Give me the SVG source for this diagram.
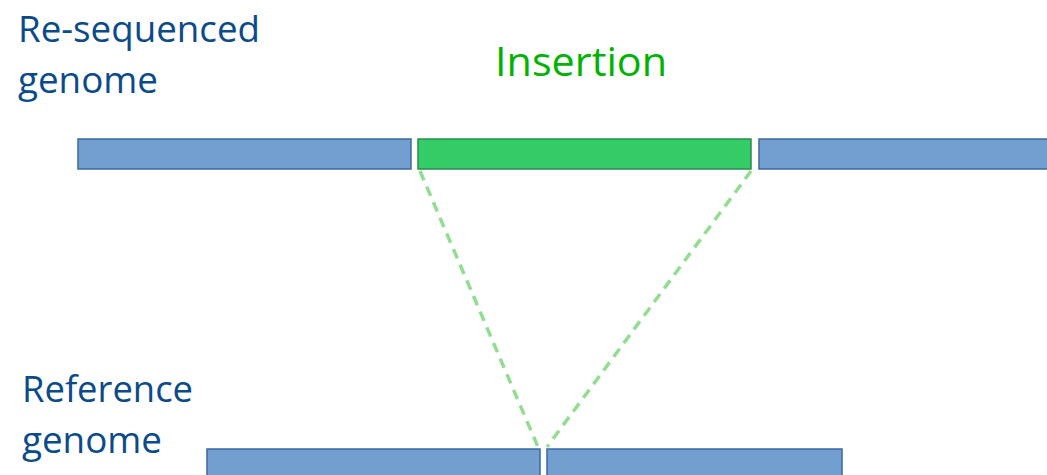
<svg xmlns="http://www.w3.org/2000/svg" width="1047" height="475" viewBox="0 0 1047 475">
<style>
.lbl{font-family:"Open Sans","Liberation Sans",sans-serif;fill:#0b4a8b;font-size:37px}
.ins{font-family:"Open Sans","Liberation Sans",sans-serif;fill:#00b300;font-size:41px}
.blue{fill:#729fcf;stroke:#3a6aa3;stroke-width:1.5}
.green{fill:#33cc66;stroke:#2a8a55;stroke-width:1.5}
.dash{stroke:#93dd93;stroke-width:3.5;stroke-dasharray:10 7;fill:none}
</style>
<rect width="1047" height="475" fill="#fff"/>
<g id="label-resequenced">
<text class="lbl" x="18" y="42" textLength="242" lengthAdjust="spacingAndGlyphs">Re-sequenced</text>
<text class="lbl" x="18" y="93" textLength="140" lengthAdjust="spacingAndGlyphs">genome</text>
</g>
<g id="label-insertion"><text class="ins" x="495" y="76" textLength="172" lengthAdjust="spacingAndGlyphs">Insertion</text></g>
<g id="label-reference">
<text class="lbl" x="22" y="402" textLength="171" lengthAdjust="spacingAndGlyphs">Reference</text>
<text class="lbl" x="22" y="453" textLength="140" lengthAdjust="spacingAndGlyphs">genome</text>
</g>
<g id="connectors">
<line class="dash" x1="420" y1="171" x2="538" y2="447"/>
<line class="dash" x1="751" y1="171" x2="547" y2="447"/>
</g>
<g id="reseq-left"><rect class="blue" x="78" y="139" width="333" height="30"/></g>
<g id="reseq-insert"><rect class="green" x="418" y="139" width="333" height="30"/></g>
<g id="reseq-right"><rect class="blue" x="759" y="139" width="300" height="30"/></g>
<g id="ref-left"><rect class="blue" x="207" y="449" width="333" height="40"/></g>
<g id="ref-right"><rect class="blue" x="547" y="449" width="295" height="40"/></g>
</svg>
